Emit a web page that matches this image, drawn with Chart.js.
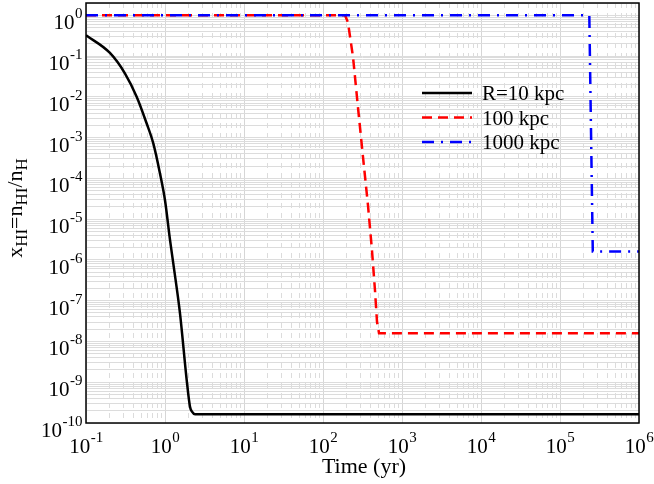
<!DOCTYPE html>
<html><head><meta charset="utf-8">
<script src="https://cdn.jsdelivr.net/npm/chart.js@4/dist/chart.umd.min.js"></script>
<style>html,body{margin:0;padding:0;background:#fff}canvas{display:block}</style>
</head><body>
<canvas id="c" width="654" height="484"></canvas>
<script>
// ---- data ----
const xTickExponents = [-1, 0, 1, 2, 3, 4, 5, 6];
const yTickExponents = [-10, -9, -8, -7, -6, -5, -4, -3, -2, -1, 0];
const seriesLabels = ['R=10 kpc', '100 kpc', '1000 kpc'];

const timeR10 = [0.1, 0.201, 0.312, 0.439, 0.586, 0.711, 0.864, 1.0, 1.157, 1.273, 1.548, 1.882, 2.072, 2.197, 2.40, 1e6];
const xhiR10  = [0.324, 0.119, 0.0372, 0.00995, 0.00222, 7.2e-4, 1.32e-4, 2.9e-5, 3.1e-6, 8.2e-7, 4.9e-8, 1.13e-9, 2.5e-10, 1.9e-10, 1.63e-10, 1.63e-10];

const timeR100 = [0.1, 190, 207, 240, 277, 321, 371, 417, 455, 483, 512, 1e6];
const xhiR100  = [1, 1, 0.67, 0.094, 5.6e-3, 3.3e-4, 2.2e-5, 1.7e-6, 1.8e-7, 3.0e-8, 1.6e-8, 1.6e-8];

const timeR1000 = [0.1, 2.35e5, 2.6e5, 1e6];
const xhiR1000  = [1, 1, 1.6e-6, 1.6e-6];

const FONT = '"Liberation Serif","Times New Roman",serif';

function pairs(t, y) { return t.map((v, i) => ({ x: v, y: y[i] })); }
function decadeTicks(e0, e1, ks, max) {
  const out = [];
  for (let e = e0; e <= e1; e++) for (const k of ks) {
    const v = k * Math.pow(10, e);
    if (v <= max * 1.000001) out.push({ value: v, major: k === 1 });
  }
  return out;
}

function drawPow(ctx, e, x, yBase, align) {
  const base = '10', ex = String(e);
  ctx.font = '21px ' + FONT; const wb = ctx.measureText(base).width;
  ctx.font = '15px ' + FONT; const we = ctx.measureText(ex).width;
  const x0 = align === 'center' ? x - (wb + we) / 2 : x - (wb + we);
  ctx.textAlign = 'left'; ctx.textBaseline = 'alphabetic';
  ctx.font = '21px ' + FONT; ctx.fillText(base, x0, yBase);
  ctx.font = '15px ' + FONT; ctx.fillText(ex, x0 + wb + 0.5, yBase - 11);
}

const decor = {
  id: 'decor',
  afterDatasetsDraw(chart) {
    const ctx = chart.ctx, a = chart.chartArea;
    ctx.save();
    // frame
    ctx.strokeStyle = '#000'; ctx.lineWidth = 1.5; ctx.setLineDash([]);
    ctx.strokeRect(a.left, a.top, a.right - a.left, a.bottom - a.top);
    // legend
    const rows = [93, 117.5, 142];
    chart.data.datasets.forEach((ds, i) => {
      const y = rows[i];
      ctx.beginPath();
      ctx.strokeStyle = ds.borderColor; ctx.lineWidth = ds.borderWidth;
      ctx.setLineDash(ds.borderDash || []);
      ctx.moveTo(422, y); ctx.lineTo(472, y); ctx.stroke();
      ctx.setLineDash([]);
      ctx.fillStyle = '#000'; ctx.font = '21px ' + FONT;
      ctx.textAlign = 'left'; ctx.textBaseline = 'alphabetic';
      ctx.fillText(ds.label, 482, y + 7);
    });
    ctx.restore();
  },
  afterDraw(chart) {
    const ctx = chart.ctx;
    const xs = chart.scales.x, ys = chart.scales.y;
    ctx.save();
    ctx.fillStyle = '#000';
    xTickExponents.forEach(e => drawPow(ctx, e, xs.getPixelForValue(Math.pow(10, e)), 453, 'center'));
    yTickExponents.forEach(e => drawPow(ctx, e, 82, ys.getPixelForValue(Math.pow(10, e)) + 14, 'right'));
    // x title
    ctx.font = '22px ' + FONT; ctx.textAlign = 'center'; ctx.textBaseline = 'alphabetic';
    ctx.fillText('Time (yr)', 364, 473);
    // y title with subscripts
    const parts = [['x', 0], ['HI', 1], ['=n', 0], ['HI', 1], ['/n', 0], ['H', 1]];
    const mainF = '22px ' + FONT, subF = '17px ' + FONT;
    let total = 0;
    parts.forEach(p => { ctx.font = p[1] ? subF : mainF; total += ctx.measureText(p[0]).width; });
    ctx.translate(22, 208); ctx.rotate(-Math.PI / 2);
    ctx.textAlign = 'left';
    let cx = -total / 2;
    parts.forEach(p => {
      ctx.font = p[1] ? subF : mainF;
      ctx.fillText(p[0], cx, p[1] ? 5 : 0);
      cx += ctx.measureText(p[0]).width;
    });
    ctx.restore();
  }
};

new Chart(document.getElementById('c'), {
  type: 'line',
  data: {
    datasets: [
      { label: seriesLabels[0], data: pairs(timeR10, xhiR10), borderColor: '#000000', borderWidth: 2.5,
        borderDash: [], cubicInterpolationMode: 'monotone', order: 2 },
      { label: seriesLabels[1], data: pairs(timeR100, xhiR100), borderColor: '#ff0000', borderWidth: 2.5,
        borderDash: [10, 6], order: 1 },
      { label: seriesLabels[2], data: pairs(timeR1000, xhiR1000), borderColor: '#0000ff', borderWidth: 2.5,
        borderDash: [12, 7, 2, 7], order: 0 }
    ]
  },
  options: {
    responsive: false, animation: false, devicePixelRatio: 1,
    layout: { padding: { top: 3, right: 15, left: 0, bottom: 0 } },
    elements: { point: { radius: 0 }, line: { tension: 0, fill: false } },
    plugins: { legend: { display: false }, tooltip: { enabled: false } },
    scales: {
      x: {
        type: 'logarithmic', position: 'bottom', min: 0.1, max: 1e6,
        afterBuildTicks: s => { s.ticks = xTickExponents.map(e => ({ value: Math.pow(10, e), major: true })); },
        afterFit: s => { s.height = 61; },
        ticks: { display: false },
        grid: { color: '#d6d6d6', lineWidth: 1, drawTicks: false },
        border: { display: false }
      },
      xm: {
        type: 'logarithmic', position: 'bottom', min: 0.1, max: 1e6,
        afterBuildTicks: s => { s.ticks = decadeTicks(-1, 5, [2, 3, 4, 5, 6, 7, 8, 9], 1e6); },
        afterFit: s => { s.height = 0; },
        ticks: { display: false },
        grid: { color: '#dcdcdc', lineWidth: 1, drawTicks: false },
        border: { display: false, dash: [5, 5] }
      },
      y: {
        type: 'logarithmic', position: 'left', min: 1e-10, max: 2,
        afterBuildTicks: s => { s.ticks = decadeTicks(-10, 0, [1, 2, 3, 4, 5, 6, 7, 8, 9], 2); },
        afterFit: s => { s.width = 86; },
        ticks: { display: false },
        grid: { color: '#dcdcdc', lineWidth: 1, drawTicks: false },
        border: { display: false }
      }
    }
  },
  plugins: [decor]
});
</script>
</body></html>
